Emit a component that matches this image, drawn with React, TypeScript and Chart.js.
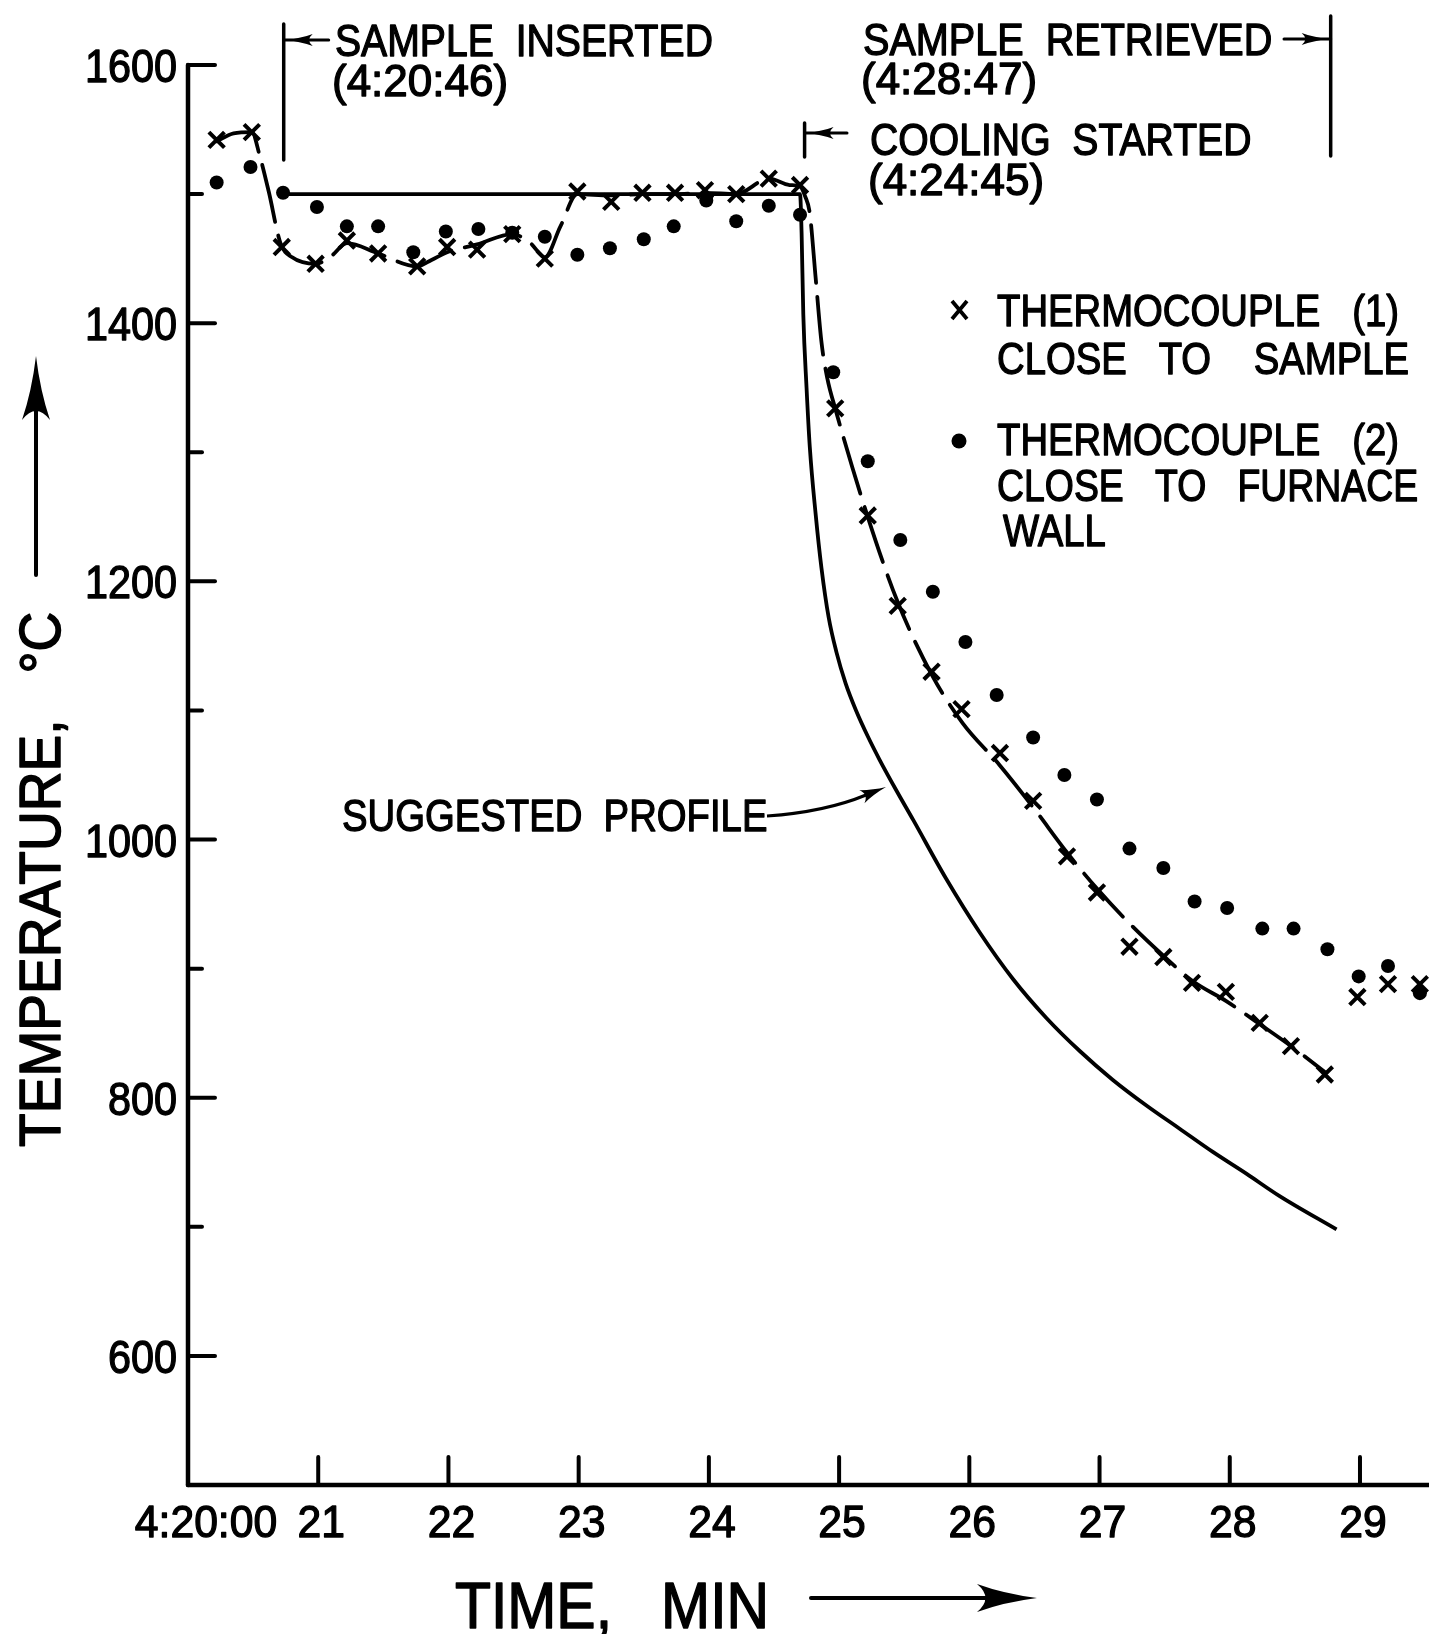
import React, { useEffect, useRef } from 'react';
import { Chart, registerables } from 'chart.js';

Chart.register(...registerables);

// ---------- data (time in minutes after 4:00:00, temperature in °C) ----------
const TC1_T = [20.22, 20.49, 20.72, 20.98, 21.22, 21.46, 21.76, 21.99, 22.22, 22.49, 22.74, 22.99, 23.25, 23.49, 23.74, 23.97, 24.21, 24.46, 24.7,
  24.97, 25.22, 25.45, 25.71, 25.94, 26.235, 26.49, 26.75, 26.98, 27.23, 27.49, 27.71, 27.97, 28.23, 28.47, 28.73, 28.98, 29.215, 29.46];
const TC1_C = [1542, 1548, 1459, 1446, 1464, 1454, 1444, 1459, 1457, 1469, 1450, 1502, 1494, 1501, 1501, 1503, 1500, 1512, 1507,
  1334, 1251, 1181, 1130, 1101, 1067, 1030, 987, 959, 917, 909, 889, 882, 858, 840, 818, 878, 888, 888];

const TC2_T = [20.22, 20.48, 20.73, 20.99, 21.22, 21.46, 21.73, 21.98, 22.23, 22.49, 22.74, 22.99, 23.24, 23.5, 23.73, 23.98, 24.21, 24.46, 24.7,
  24.955, 25.22, 25.47, 25.72, 25.97, 26.21, 26.49, 26.73, 26.98, 27.23, 27.49, 27.73, 27.98, 28.25, 28.49, 28.75, 28.99, 29.215, 29.46];
const TC2_C = [1509, 1521, 1501, 1490, 1475, 1475, 1455, 1471, 1473, 1470, 1467, 1453, 1458, 1465, 1475, 1495, 1479, 1491, 1484,
  1362, 1293, 1232, 1192, 1153, 1112, 1079, 1050, 1031, 993, 978, 952, 947, 931, 931, 915, 894, 902, 881];

// hand-drawn curve through thermocouple (1)
const FIT_T = [20.22, 20.35, 20.49, 20.55, 20.62, 20.71, 20.8, 20.98, 21.1, 21.22, 21.46, 21.76, 21.87, 21.99, 22.22, 22.49, 22.63, 22.74, 22.86, 22.99,
  23.24, 23.49, 23.74, 23.97, 24.21, 24.46, 24.62, 24.7, 24.74, 24.775, 24.82, 24.865, 24.91, 24.97, 25.22, 25.45, 25.71, 25.95, 26.23, 26.49,
  26.75, 26.98, 27.23, 27.49, 27.72, 27.97, 28.23, 28.47, 28.73];
const FIT_C = [1541, 1547, 1548, 1530, 1502, 1462, 1451, 1446, 1452, 1462, 1454, 1444, 1449, 1455, 1461, 1469, 1462, 1451, 1475, 1500,
  1499, 1500, 1500, 1501, 1500, 1512, 1507, 1506, 1498, 1485, 1435, 1385, 1357, 1334, 1250, 1184, 1128, 1090, 1058, 1025,
  990, 962, 935, 910, 890, 875, 857, 840, 820];

// suggested profile
const PROFILE_T = [20.75, 24.7, 24.712, 24.725, 24.75, 24.775, 24.82, 24.865, 24.92, 24.98, 25.05, 25.13, 25.22, 25.31, 25.44, 25.57, 25.82, 26.08,
  26.335, 26.59, 26.85, 27.1, 27.36, 27.615, 27.87, 28.13, 28.38, 28.82];
const PROFILE_C = [1500, 1500, 1470, 1407, 1350, 1304, 1252, 1210, 1172, 1145, 1121, 1100, 1080, 1062, 1038, 1015, 970, 928,
  892, 862, 836, 814, 794, 776, 758, 741, 724, 698];

const X_TICK_VALUES = [20, 21, 22, 23, 24, 25, 26, 27, 28, 29];
const X_TICK_LABELS = ['4:20:00', '21', '22', '23', '24', '25', '26', '27', '28', '29'];
const Y_TICK_VALUES = [600, 800, 1000, 1200, 1400, 1600];
const Y_TICK_LABELS = ['600', '800', '1000', '1200', '1400', '1600'];

// event marks
const EVENT_INSERTED = 20.735;
const EVENT_COOLING = 24.735;
const EVENT_RETRIEVED = 28.775;

const FONT = '"Liberation Sans", Arial, Helvetica, sans-serif';

function txt(ctx: CanvasRenderingContext2D, s: string, x: number, y: number, size: number, align: CanvasTextAlign = 'left', sx = 0.87, stroke = 1.3) {
  ctx.save();
  ctx.font = `${size}px ${FONT}`;
  ctx.textAlign = align;
  ctx.textBaseline = 'alphabetic';
  ctx.fillStyle = '#000';
  ctx.strokeStyle = '#000';
  ctx.lineWidth = stroke;
  ctx.lineJoin = 'round';
  ctx.translate(x, y);
  ctx.scale(sx, 1);
  ctx.fillText(s, 0, 0);
  if (stroke > 0) ctx.strokeText(s, 0, 0);
  ctx.restore();
}

function head(ctx: CanvasRenderingContext2D, x: number, y: number, angle: number, L: number, W: number) {
  ctx.save();
  ctx.translate(x, y);
  ctx.rotate(angle);
  ctx.beginPath();
  ctx.moveTo(0, 0);
  ctx.quadraticCurveTo(-L * 0.55, -W * 0.3, -L, -W);
  ctx.quadraticCurveTo(-L * 0.72, 0, -L, W);
  ctx.quadraticCurveTo(-L * 0.55, W * 0.3, 0, 0);
  ctx.closePath();
  ctx.fillStyle = '#000';
  ctx.fill();
  ctx.restore();
}

function line(ctx: CanvasRenderingContext2D, x1: number, y1: number, x2: number, y2: number, w = 3.5) {
  ctx.save();
  ctx.strokeStyle = '#000';
  ctx.lineWidth = w;
  ctx.lineCap = 'round';
  ctx.beginPath();
  ctx.moveTo(x1, y1);
  ctx.lineTo(x2, y2);
  ctx.stroke();
  ctx.restore();
}

const decor = {
  id: 'decor',
  afterDraw(chart: any) {
    const ctx: CanvasRenderingContext2D = chart.ctx;
    const xs = chart.scales.x;
    const ys = chart.scales.y;
    const { left, right, top, bottom } = chart.chartArea;

    // axes
    line(ctx, left, top, left, bottom, 4.5);
    line(ctx, left, bottom, right, bottom, 4.5);

    // y ticks (inside)
    ys.ticks.forEach((t: any) => {
      const v = t.value;
      if (v <= 500) return;
      const py = ys.getPixelForValue(v);
      const len = v % 200 === 0 ? 27 : 14;
      line(ctx, left, py, left + len, py, 4);
    });
    Y_TICK_VALUES.forEach((v, i) => {
      const py = ys.getPixelForValue(v);
      txt(ctx, Y_TICK_LABELS[i], 177, py + 17, 46, 'right', 0.9);
    });

    // x ticks (inside)
    xs.ticks.forEach((t: any) => {
      const v = t.value;
      if (v <= 20 || Math.abs(v - Math.round(v)) > 1e-6) return;
      const px = xs.getPixelForValue(v);
      line(ctx, px, bottom, px, bottom - 28, 4);
    });
    X_TICK_VALUES.forEach((v, i) => {
      const px = xs.getPixelForValue(v);
      txt(ctx, X_TICK_LABELS[i], px + (i === 0 ? 18 : 3), 1537, 44, 'center', 0.97);
    });

    // axis titles
    txt(ctx, 'TIME,   MIN', 455, 1628, 64, 'left', 0.92, 1.5);
    line(ctx, 811, 1598, 1010, 1598, 4);
    head(ctx, 1037, 1598, 0, 60, 14);

    ctx.save();
    ctx.translate(60, 1147);
    ctx.rotate(-Math.PI / 2);
    txt(ctx, 'TEMPERATURE,   °C', 0, 0, 58, 'left', 0.95, 1.5);
    ctx.restore();
    line(ctx, 36, 575, 36, 390, 4);
    head(ctx, 36, 356, -Math.PI / 2, 64, 14);

    // event: sample inserted
    const xi = xs.getPixelForValue(EVENT_INSERTED);
    line(ctx, xi, 24, xi, 160, 3.5);
    line(ctx, xi, 40, xi + 45, 40, 3);
    head(ctx, xi + 3, 40, Math.PI, 26, 6);
    txt(ctx, 'SAMPLE  INSERTED', 335, 56, 44, 'left', 0.89);
    txt(ctx, '(4:20:46)', 332, 96, 44, 'left', 1.0);

    // event: cooling started
    const xc = xs.getPixelForValue(EVENT_COOLING);
    line(ctx, xc, 123, xc, 157, 3.5);
    line(ctx, xc, 133, 847, 133, 3);
    head(ctx, xc + 3, 133, Math.PI, 26, 6);
    txt(ctx, 'COOLING  STARTED', 870, 155, 44, 'left', 0.89);
    txt(ctx, '(4:24:45)', 868, 195, 44, 'left', 1.0);

    // event: sample retrieved
    const xr = xs.getPixelForValue(EVENT_RETRIEVED);
    line(ctx, xr, 16, xr, 156, 3.5);
    line(ctx, 1284, 39, xr, 39, 3);
    head(ctx, xr - 3, 39, 0, 26, 6);
    txt(ctx, 'SAMPLE  RETRIEVED', 863, 55, 44, 'left', 0.9);
    txt(ctx, '(4:28:47)', 861, 94, 44, 'left', 1.0);

    // suggested profile label
    txt(ctx, 'SUGGESTED  PROFILE', 342, 831, 44, 'left', 0.87);
    ctx.save();
    ctx.strokeStyle = '#000';
    ctx.lineWidth = 3;
    ctx.beginPath();
    ctx.moveTo(767, 816);
    ctx.quadraticCurveTo(825, 812, 866, 795);
    ctx.stroke();
    ctx.restore();
    head(ctx, 886, 787, -0.38, 26, 7);

    // legend
    ctx.save();
    ctx.strokeStyle = '#000';
    ctx.lineWidth = 3.8;
    ctx.beginPath();
    ctx.moveTo(952, 301); ctx.lineTo(967, 319);
    ctx.moveTo(967, 301); ctx.lineTo(952, 319);
    ctx.stroke();
    ctx.beginPath();
    ctx.arc(959, 441, 7.5, 0, Math.PI * 2);
    ctx.fillStyle = '#000';
    ctx.fill();
    ctx.restore();
    txt(ctx, 'THERMOCOUPLE   (1)', 997, 326, 44);
    txt(ctx, 'CLOSE   TO    SAMPLE', 997, 374, 44);
    txt(ctx, 'THERMOCOUPLE   (2)', 997, 455, 44);
    txt(ctx, 'CLOSE   TO   FURNACE', 997, 501, 44, 'left', 0.85);
    txt(ctx, 'WALL', 1003, 546, 44);
  },
};

export default function App() {
  const ref = useRef<HTMLCanvasElement | null>(null);

  useEffect(() => {
    const canvas = ref.current;
    if (!canvas) return;
    const pts = (ts: number[], cs: number[]) => ts.map((t, i) => ({ x: t, y: cs[i] }));
    const chart = new Chart(canvas, {
      type: 'scatter',
      data: {
        datasets: [
          {
            label: 'Thermocouple (1) close to sample',
            data: pts(TC1_T, TC1_C),
            pointStyle: 'crossRot',
            pointRadius: 11,
            pointBorderWidth: 4,
            pointBorderColor: '#000',
            pointBackgroundColor: '#000',
            showLine: false,
          } as any,
          {
            label: 'Thermocouple (2) close to furnace wall',
            data: pts(TC2_T, TC2_C),
            pointStyle: 'circle',
            pointRadius: 7,
            pointBorderWidth: 0,
            pointBackgroundColor: '#000',
            pointBorderColor: '#000',
            showLine: false,
          } as any,
          {
            label: 'Thermocouple (1) curve',
            data: pts(FIT_T, FIT_C),
            showLine: true,
            borderColor: '#000',
            borderWidth: 3.8,
            borderDash: [58, 14],
            borderCapStyle: 'round',
            pointRadius: 0,
            cubicInterpolationMode: 'monotone',
          } as any,
          {
            label: 'Suggested profile',
            data: pts(PROFILE_T, PROFILE_C),
            showLine: true,
            borderColor: '#000',
            borderWidth: 3.8,
            pointRadius: 0,
            cubicInterpolationMode: 'monotone',
          } as any,
        ],
      },
      options: {
        responsive: false,
        animation: false,
        devicePixelRatio: 1,
        events: [],
        layout: { padding: { top: 65, left: 0, right: 0, bottom: 0 }, autoPadding: false },
        plugins: { legend: { display: false }, tooltip: { enabled: false }, title: { display: false } },
        scales: {
          x: {
            type: 'linear',
            min: 20,
            max: 29.53,
            ticks: { display: false, stepSize: 1, includeBounds: false },
            grid: { display: false },
            border: { display: false },
            afterFit: (s: any) => { s.height = 149; },
          },
          y: {
            type: 'linear',
            min: 500,
            max: 1600,
            ticks: { display: false, stepSize: 100 },
            grid: { display: false },
            border: { display: false },
            afterFit: (s: any) => { s.width = 188; },
          },
        },
      } as any,
      plugins: [decor],
    });
    return () => chart.destroy();
  }, []);

  return (
    <div style={{ position: 'absolute', left: 0, top: 0, width: 1429, height: 1634, background: '#fff', overflow: 'hidden' }}>
      <canvas ref={ref} width={1429} height={1634} style={{ width: 1429, height: 1634, display: 'block' }} />
    </div>
  );
}
